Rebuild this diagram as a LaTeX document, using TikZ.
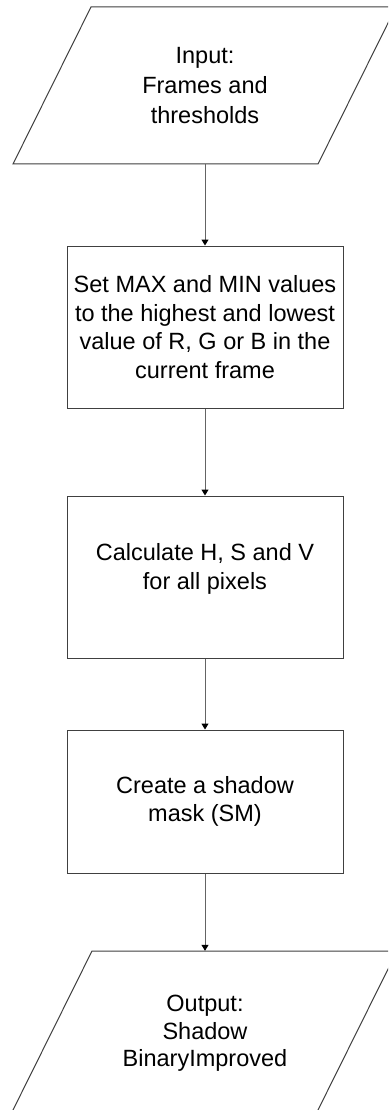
\documentclass[tikz,border=0pt]{standalone}
\usepackage{fontspec}
\setmainfont{Liberation Sans}
\usetikzlibrary{arrows.meta}
\definecolor{edge}{RGB}{64,64,64}
\definecolor{conn}{RGB}{100,100,100}
\tikzset{
  stepbox/.style={draw=edge, line width=1pt, rectangle, minimum width=276pt,
    inner sep=0pt, align=center, font=\fontsize{23.5}{28.5}\selectfont},
  iotext/.style={rectangle, inner sep=0pt, minimum width=227pt, align=center,
    font=\fontsize{23.5}{28.5}\selectfont},
  ioshape/.style={draw=edge, line width=1pt, line join=miter},
  flow/.style={draw=conn, line width=1pt, -{Triangle[length=6pt,width=7pt,color=black]}}
}
\begin{document}
\begin{tikzpicture}[x=1pt,y=-1pt]
\useasboundingbox (0,0) rectangle (388,1110);
\fill[white] (0,0) rectangle (388,1110);
\clip (0,0) rectangle (388,1110);
\node[iotext, minimum height=157pt, font=\fontsize{23.5}{30}\selectfont] (in) at (205,85.5) {Input:\\Frames and\\thresholds};
\draw[ioshape] (91,7) -- (396,7) -- (318,164) -- (13,164) -- cycle;
\node[stepbox, minimum height=162pt] (b2) at (205,327) {Set MAX and MIN values\\to the highest and lowest\\value of R, G or B in the\\current frame};
\node[stepbox, minimum height=162pt] (b3) at (205,577) {Calculate H, S and V\\for all pixels\rule[-21pt]{0pt}{1pt}};
\node[stepbox, minimum height=143pt] (b4) at (205,801.5) {Create a shadow\\mask (SM)};
\node[iotext, minimum height=165pt, font=\fontsize{23.5}{27.5}\selectfont] (out) at (205,1033.5) {Output:\\Shadow\\BinaryImproved};
\draw[ioshape] (92,951) -- (397,951) -- (315,1116) -- (10,1116) -- cycle;
\draw[flow] (in.south) -- (b2.north);
\draw[flow] (b2.south) -- (b3.north);
\draw[flow] (b3.south) -- (b4.north);
\draw[flow] (b4.south) -- (out.north);
\end{tikzpicture}
\end{document}
